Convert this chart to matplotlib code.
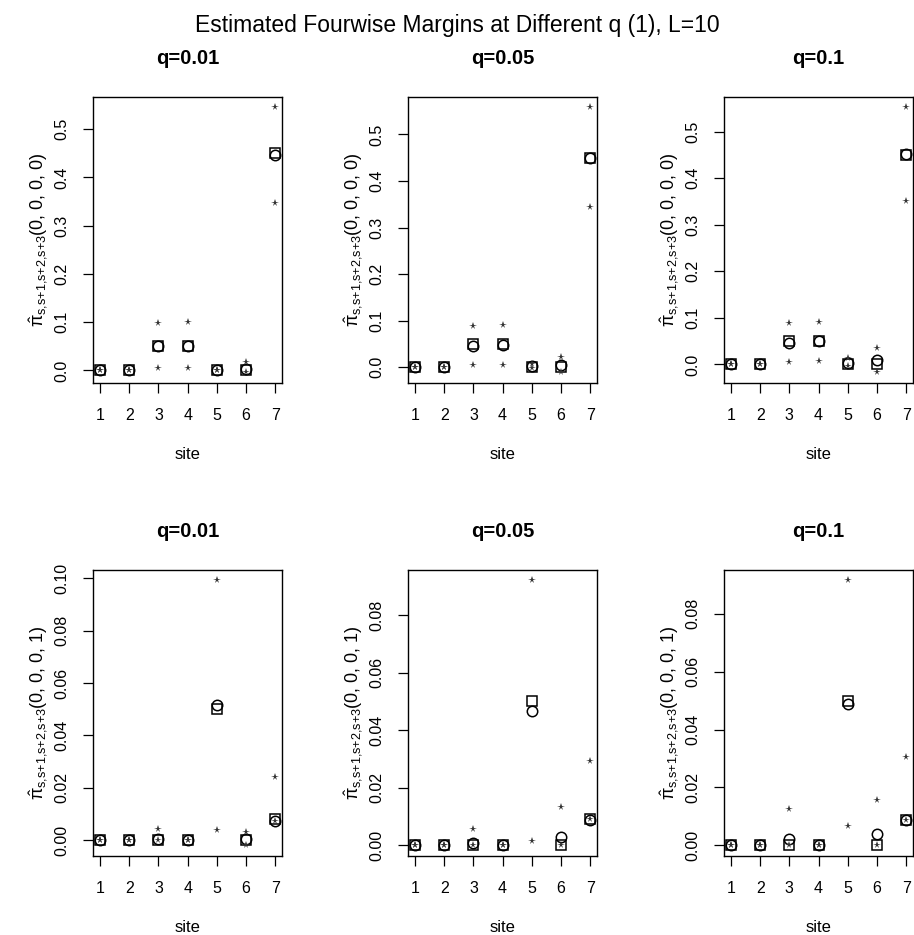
import numpy as np
import matplotlib
matplotlib.use("Agg")
import matplotlib.pyplot as plt
from matplotlib.ticker import FormatStrFormatter

plt.rcParams['font.family'] = ['Liberation Sans', 'DejaVu Sans']
plt.rcParams['mathtext.fontset'] = 'custom'
plt.rcParams['mathtext.rm'] = 'Liberation Sans'
plt.rcParams['mathtext.it'] = 'Liberation Sans'

sites = [1, 2, 3, 4, 5, 6, 7]
q_labels = ["q=0.01", "q=0.05", "q=0.1"]

# top row: pattern (0,0,0,0)
true_0000 = [[0, 0, 0.05, 0.05, 0, 0, 0.45],
             [0, 0, 0.05, 0.05, 0, 0, 0.45],
             [0, 0, 0.05, 0.05, 0, 0, 0.45]]
est_0000 = [[0, 0, 0.05, 0.05, 0, 0.002, 0.446],
            [0, 0, 0.046, 0.047, 0.002, 0.004, 0.449],
            [0, 0, 0.047, 0.05, 0.003, 0.01, 0.452]]
lo_0000 = [[0, 0, 0.005, 0.005, 0, -0.004, 0.348],
           [0, 0, 0.004, 0.004, -0.001, -0.011, 0.345],
           [0, 0, 0.006, 0.007, -0.003, -0.017, 0.352]]
hi_0000 = [[0, 0, 0.099, 0.1, 0, 0.017, 0.545],
           [0, 0, 0.089, 0.09, 0.007, 0.022, 0.558],
           [0, 0, 0.088, 0.091, 0.013, 0.036, 0.552]]

# bottom row: pattern (0,0,0,1)
true_0001 = [[0, 0, 0, 0, 0.05, 0, 0.0082],
             [0, 0, 0, 0, 0.05, 0, 0.009],
             [0, 0, 0, 0, 0.05, 0, 0.0086]]
est_0001 = [[0, 0, 0.0006, 0, 0.0518, 0.0004, 0.0072],
            [0, 0, 0.0009, 0, 0.0467, 0.003, 0.0088],
            [0, 0, 0.0023, 0, 0.0487, 0.0039, 0.0086]]
lo_0001 = [[0, 0, 0, 0, 0.004, -0.002, 0.0075],
           [0, 0, 0, 0, 0.0015, 0, 0.009],
           [0, 0, 0, 0, 0.0066, 0, 0.0086]]
hi_0001 = [[0, 0, 0.0043, 0, 0.0992, 0.0031, 0.024],
           [0, 0, 0.0058, 0, 0.092, 0.0133, 0.0293],
           [0, 0, 0.0124, 0, 0.0915, 0.0158, 0.0307]]

yticks_top = [0.0, 0.1, 0.2, 0.3, 0.4, 0.5]
yticks_bot = [[0.0, 0.02, 0.04, 0.06, 0.08, 0.10],
              [0.0, 0.02, 0.04, 0.06, 0.08],
              [0.0, 0.02, 0.04, 0.06, 0.08]]

fig = plt.figure(figsize=(9.14, 9.35), dpi=100)
fig.text(0.5, 1 - 32 / 935, "Estimated Fourwise Margins at Different q (1), L=10",
         fontsize=16.5, ha='center', va='baseline')

lefts = [0.1018, 0.4464, 0.7921]
width = 0.207
rows = [(0.5904, 0.306), (0.0845, 0.306)]


def panel(ax, tr, es, lo, hi, yt, fmt, ylab, title):
    ax.plot(sites, tr, ls='none', marker='s', ms=6.5, mfc='none', mec='black', mew=1.1)
    ax.plot(sites, es, ls='none', marker='o', ms=7.5, mfc='none', mec='black', mew=1.1)
    ax.plot(sites, lo, ls='none', marker='*', ms=5.5, color='#333333', mew=0)
    ax.plot(sites, hi, ls='none', marker='*', ms=5.5, color='#333333', mew=0)
    allv = np.concatenate([tr, es, lo, hi])
    mn, mx = allv.min(), allv.max()
    pad = 0.04 * (mx - mn)
    ax.set_ylim(mn - pad, mx + pad)
    ax.set_xlim(1 - 0.24, 7 + 0.24)
    ax.set_xticks(sites)
    ax.set_yticks(yt)
    ax.yaxis.set_major_formatter(FormatStrFormatter(fmt))
    ax.tick_params(direction='out', length=7, width=0.9, labelsize=11.5)
    ax.tick_params(axis='x', pad=11)
    ax.tick_params(axis='y', pad=10)
    for lab in ax.get_yticklabels():
        lab.set_rotation(90)
        lab.set_va('center')
    for s in ax.spines.values():
        s.set_linewidth(1.0)
    ax.set_xlabel("site", fontsize=12, labelpad=17)
    ax.set_ylabel(ylab, fontsize=13, labelpad=3)
    ax.set_title(title, fontsize=14.5, fontweight='bold', pad=24)


sub = r'_{\mathrm{s{,}s{+}1{,}s{+}2{,}s{+}3}}'
lab_top = r'$\hat{\pi}' + sub + r'$(0, 0, 0, 0)'
lab_bot = r'$\hat{\pi}' + sub + r'$(0, 0, 0, 1)'

for i in range(3):
    ax = fig.add_axes([lefts[i], rows[0][0], width, rows[0][1]])
    panel(ax, true_0000[i], est_0000[i], lo_0000[i], hi_0000[i],
          yticks_top, '%.1f', lab_top, q_labels[i])
    ax = fig.add_axes([lefts[i], rows[1][0], width, rows[1][1]])
    panel(ax, true_0001[i], est_0001[i], lo_0001[i], hi_0001[i],
          yticks_bot[i], '%.2f', lab_bot, q_labels[i])

fig.savefig("out.png", dpi=100)
